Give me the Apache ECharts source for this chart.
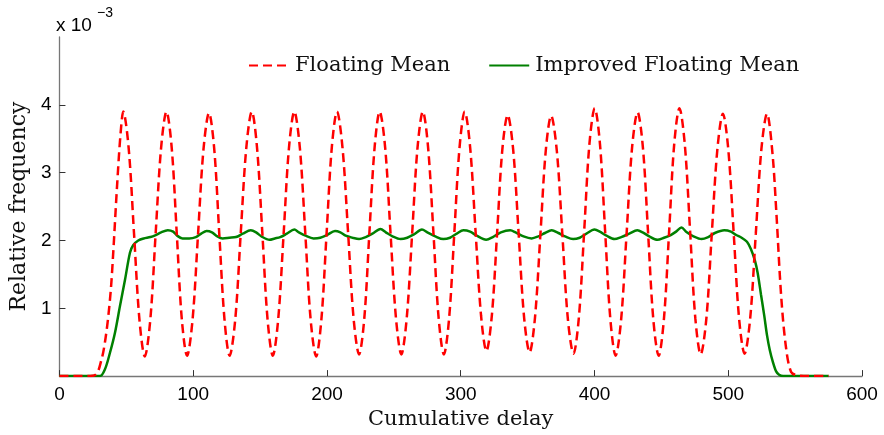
<!DOCTYPE html>
<html>
<head>
<meta charset="utf-8">
<script src="https://cdn.jsdelivr.net/npm/echarts@6/dist/echarts.min.js"></script>
<style>
html,body{margin:0;padding:0;background:#fff;}
#chart{width:884px;height:435px;}
</style>
</head>
<body>
<div id="chart"></div>
<script>
// Values in units of 1e-3
const seriesNames = ['Floating Mean', 'Improved Floating Mean'];
const xTicks = [0, 100, 200, 300, 400, 500, 600];
const yTicks = [1, 2, 3, 4];

const floatingMean = [
  [0,0],[10,0],[20,0],[27,0.02],[31.5,0.25],[34,0.5],[36.5,0.88],[38.5,1.3],[40.2,1.82],[43.2,2.85],[45.7,3.58],[47.7,3.90],
  [51.7,3.37],[55.75,2.10],[59.8,0.83],[63.8,0.29],[67.9,0.83],[71.9,2.10],[76,3.37],[80,3.90],
  [83.9,3.37],[87.7,2.10],[91.5,0.83],[95.4,0.30],[99.5,0.83],[103.6,2.09],[107.7,3.35],[111.8,3.88],
  [115.7,3.35],[119.5,2.09],[123.4,0.83],[127.2,0.30],[131.4,0.83],[135.5,2.10],[139.7,3.37],[143.8,3.90],
  [147.7,3.37],[151.7,2.10],[155.6,0.83],[159.5,0.30],[163.5,0.83],[167.6,2.10],[171.6,3.37],[175.6,3.90],
  [179.7,3.37],[183.8,2.10],[187.8,0.83],[191.9,0.29],[195.8,0.83],[199.7,2.10],[203.6,3.37],[207.5,3.90],
  [211.6,3.37],[215.8,2.11],[219.9,0.85],[224,0.32],[227.9,0.85],[231.7,2.11],[235.6,3.37],[239.4,3.90],
  [243.5,3.37],[247.5,2.11],[251.6,0.85],[255.6,0.32],[259.6,0.85],[263.7,2.11],[267.7,3.37],[271.7,3.90],
  [275.6,3.37],[279.6,2.11],[283.5,0.85],[287.4,0.32],[291.3,0.85],[295.2,2.11],[299.1,3.37],[303,3.90],
  [307,3.38],[311.1,2.13],[315.2,0.89],[319.2,0.37],[323.2,0.88],[327.2,2.11],[331.1,3.34],[335.1,3.85],
  [339.2,3.34],[343.3,2.10],[347.4,0.86],[351.5,0.35],[355.5,0.86],[359.6,2.10],[363.6,3.33],[367.6,3.84],
  [371.8,3.33],[376,2.08],[380.1,0.84],[384.3,0.33],[388.3,0.86],[392.3,2.14],[396.2,3.42],[400.2,3.95],
  [404.1,3.42],[408,2.12],[411.9,0.83],[415.8,0.30],[419.9,0.83],[424,2.10],[428.1,3.37],[432.2,3.89],
  [436.2,3.37],[440.1,2.10],[444,0.83],[448,0.30],[451.9,0.84],[455.8,2.13],[459.6,3.42],[463.5,3.95],
  [467.5,3.42],[471.5,2.13],[475.4,0.85],[479.4,0.32],[483.6,0.84],[487.7,2.10],[491.9,3.35],[496,3.87],
  [500,3.35],[504.1,2.10],[508.1,0.85],[512.2,0.33],[516.4,0.85],[520.6,2.10],[524.8,3.35],[529,3.87],
  [533,3.30],[536,2.40],[539.5,1.20],[543,0.45],[547,0.06],[552,0.01],[560,0],[575,0]
];

const improvedFloatingMean = [
  [0,0],[15,0],[30.3,0],[34,0.1],[37.7,0.34],[41.5,0.64],[45.2,1.03],[49,1.42],[52.7,1.82],[55.1,1.93],[58.9,2.0],
  [63,2.03],[68,2.05],[72,2.08],[76,2.12],[81,2.15],[85,2.13],[88,2.07],[92,2.03],[97,2.03],[102,2.05],[106,2.1],
  [110,2.14],[114,2.12],[118,2.06],[122,2.03],[127,2.04],[132,2.05],[137,2.1],[143,2.15],[147,2.12],[151,2.06],
  [157,2.01],[161,2.03],[165,2.05],[170,2.1],[175.6,2.16],[179,2.12],[184,2.07],[190,2.03],[195,2.04],[200,2.08],
  [206,2.14],[210,2.12],[214,2.07],[219,2.04],[224,2.02],[229,2.05],[234,2.1],[240,2.17],[244,2.12],[249,2.06],
  [255,2.02],[260,2.04],[265,2.09],[271,2.16],[275,2.12],[281,2.06],[287,2.02],[292,2.04],[297,2.1],[302,2.15],
  [307,2.13],[312,2.07],[319,2.01],[324,2.05],[330,2.12],[337,2.15],[341,2.12],[347,2.06],[353,2.03],[358,2.06],
  [363,2.11],[368,2.15],[373,2.11],[378,2.06],[384,2.02],[389,2.04],[394,2.1],[400,2.16],[404,2.13],[409,2.07],
  [415,2.02],[420,2.05],[426,2.1],[432,2.15],[436,2.12],[441,2.06],[447,2.01],[452,2.04],[457,2.08],[461,2.13],
  [465,2.19],[469,2.12],[474,2.06],[480,2.02],[485,2.05],[490,2.11],[497,2.15],[502,2.13],[506,2.08],[510,2.04],
  [514,1.98],[517,1.87],[520,1.7],[522,1.52],[524.5,1.2],[527,0.88],[529,0.6],[531,0.39],[533.5,0.2],[535.8,0.07],
  [538,0.02],[541,0],[560,0],[575,0]
];

const chart = echarts.init(document.getElementById('chart'), null, {renderer: 'canvas'});
const sans = 'Liberation Sans, Arial, sans-serif';
const serif = 'DejaVu Serif, serif';
chart.setOption({
  animation: false,
  backgroundColor: '#fff',
  title: [
    {
      text: 'x 10', left: 56, top: 16, padding: 0,
      textStyle: {fontFamily: sans, fontSize: 19, fontWeight: 'normal', color: '#000', lineHeight: 19}
    },
    {
      text: '\u22123', left: 97, top: 6, padding: 0,
      textStyle: {fontFamily: sans, fontSize: 14, fontWeight: 'normal', color: '#000', lineHeight: 14}
    }
  ],
  legend: {
    left: 243, top: 50,
    itemWidth: 40, itemHeight: 14, itemGap: 38,
    itemStyle: {opacity: 0},
    textStyle: {fontFamily: serif, fontSize: 21, color: '#111', padding: [0,0,0,1]},
    data: seriesNames
  },
  grid: {left: 56, right: 22, top: 37, bottom: 58, containLabel: false},
  xAxis: {
    type: 'value', min: 0, max: 600, interval: 100,
    name: 'Cumulative delay', nameLocation: 'middle', nameGap: 29,
    nameTextStyle: {fontFamily: serif, fontSize: 21, color: '#111', verticalAlign: 'top'},
    axisLine: {lineStyle: {color: '#777', width: 1.3}},
    axisTick: {inside: true, length: 6, lineStyle: {color: '#333'}},
    axisLabel: {fontFamily: sans, fontSize: 19, color: '#000', margin: 9,
      customValues: xTicks},
    splitLine: {show: false}
  },
  yAxis: {
    type: 'value', min: 0, max: 5, interval: 1,
    name: 'Relative frequency', nameLocation: 'middle', nameGap: 28,
    nameTextStyle: {fontFamily: serif, fontSize: 22, color: '#111'},
    axisLine: {show: true, lineStyle: {color: '#777', width: 1.3}},
    axisTick: {show: true, inside: true, length: 6, lineStyle: {color: '#333'}, customValues: yTicks},
    axisLabel: {fontFamily: sans, fontSize: 19, color: '#000', margin: 8, customValues: yTicks},
    splitLine: {show: false}
  },
  series: [
    {
      name: seriesNames[0], type: 'line', data: floatingMean,
      symbol: 'none', smooth: 0.33,
      lineStyle: {color: '#ff0000', width: 2.5, type: [9, 5]},
      itemStyle: {color: '#ff0000'},
      z: 3
    },
    {
      name: seriesNames[1], type: 'line', data: improvedFloatingMean,
      symbol: 'none', smooth: 0.3,
      lineStyle: {color: '#008000', width: 2.5},
      itemStyle: {color: '#008000'},
      z: 2
    }
  ]
});
</script>
</body>
</html>
